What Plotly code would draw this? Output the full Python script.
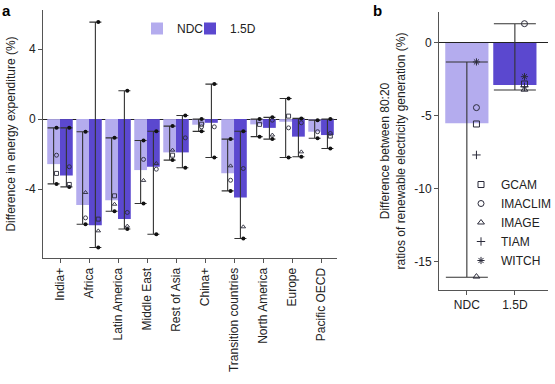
import numpy as np
import plotly.graph_objects as go

# ---------------- Panel a data ----------------
regions = ["India+", "Africa", "Latin America", "Middle East", "Rest of Asia",
           "China+", "Transition countries", "North America", "Europe", "Pacific OECD"]

ndc_mean = [-2.57, -4.91, -4.63, -2.91, -1.90, -0.32, -3.09, -0.30, -0.15, -0.72]
ndc_lo = [-3.70, -6.00, -5.26, -4.82, -2.34, -0.70, -4.10, -1.00, -2.19, -1.09]
ndc_hi = [-0.50, -0.72, -1.07, -1.22, -0.40, 0.00, -1.14, 0.00, 1.18, -0.06]
ndc_gcam = [-3.10, None, -4.38, None, -2.06, -0.29, None, -0.30, 0.17, None]
ndc_imaclim = [-2.06, -5.64, None, -2.30, None, -0.44, -3.49, None, -0.50, -0.72]
ndc_image = [None, -4.19, -4.86, -3.50, -1.77, None, -2.67, None, None, None]

d15_mean = [-3.22, -6.06, -5.71, -2.72, -1.90, -0.21, -4.48, -0.50, -1.00, -0.91]
d15_lo = [-3.87, -7.33, -6.27, -6.57, -2.78, -2.19, -6.82, -1.14, -2.15, -1.68]
d15_hi = [-0.50, 5.54, 1.62, -0.69, 0.21, 2.00, -0.69, 0.10, 0.04, 0.00]
d15_gcam = [-3.73, -5.71, None, None, None, None, None, None, None, -0.97]
d15_imaclim = [-2.72, None, -5.33, -2.86, -1.07, -0.44, -2.82, -0.06, -0.21, -0.82]
d15_image = [None, -6.38, -6.11, -2.53, None, None, -6.15, -0.91, -1.87, None]

a_tickvals = [-4, 0, 4]
a_ticktext = ["-4", "0", "4"]

# ---------------- Panel b data ----------------
scenarios = ["NDC", "1.5D"]
b_mean = [-5.50, -2.88]
b_lo = [-16.05, -3.22]
b_hi = [-1.30, 1.32]
b_gcam = [-5.55, -2.81]
b_imaclim = [-4.43, 1.32]
b_image = [-16.00, -3.20]
b_tiam = [-7.67, -3.00]
b_witch = [-1.30, -2.31]

b_tickvals = [-15, -10, -5, 0]
b_ticktext = ["-15", "-10", "-5", "0"]

models = ["GCAM", "IMACLIM", "IMAGE", "TIAM", "WITCH"]
symbols = ["square-open", "circle-open", "triangle-up-open", "cross-thin-open", "asterisk-open"]

NDC_COL = "#b4acee"
D15_COL = "#5b48cf"
ERR_COL = "#333333"
MK_COL = "#2a2a3a"
FONT = "Liberation Sans, Arial, sans-serif"

fig = go.Figure()

# ---------------- Panel a ----------------
x = np.arange(len(regions))
off, bw, moff = 0.22, 0.44, 0.10

series_a = [
    ("NDC", ndc_mean, ndc_lo, ndc_hi, [ndc_gcam, ndc_imaclim, ndc_image], NDC_COL, -1, "legend"),
    ("1.5D", d15_mean, d15_lo, d15_hi, [d15_gcam, d15_imaclim, d15_image], D15_COL, 1, "legend3"),
]
for name, mean, lo, hi, mvals, col, sgn, leg in series_a:
    xs = x + sgn * off
    m = np.array(mean, dtype=float)
    fig.add_trace(go.Bar(x=xs, y=mean, width=bw, marker=dict(color=col, line=dict(width=0)),
                         name=name, legend=leg, xaxis="x", yaxis="y"))
    fig.add_trace(go.Scatter(
        x=xs, y=mean, mode="markers", marker=dict(size=1, opacity=0),
        error_y=dict(type="data", symmetric=False, array=np.array(hi) - m,
                     arrayminus=m - np.array(lo), color=ERR_COL, thickness=1.1, width=6),
        showlegend=False, hoverinfo="skip", xaxis="x", yaxis="y"))
    # end dots
    fig.add_trace(go.Scatter(
        x=np.concatenate([xs, xs]) + moff, y=list(lo) + list(hi), mode="markers",
        marker=dict(symbol="circle", size=4, color="#111111"),
        showlegend=False, hoverinfo="skip", xaxis="x", yaxis="y"))
    for vals, sym in zip(mvals, symbols[:3]):
        fig.add_trace(go.Scatter(
            x=xs + moff, y=vals, mode="markers",
            marker=dict(symbol=sym, size=4, color=MK_COL, line=dict(width=0.9, color=MK_COL)),
            showlegend=False, hoverinfo="skip", xaxis="x", yaxis="y"))

# ---------------- Panel b ----------------
xb = np.arange(len(scenarios))
bm = np.array(b_mean, dtype=float)
fig.add_trace(go.Bar(x=xb, y=b_mean, width=0.9, marker=dict(color=[NDC_COL, D15_COL], line=dict(width=0)),
                     showlegend=False, xaxis="x2", yaxis="y2"))
fig.add_trace(go.Scatter(
    x=xb, y=b_mean, mode="markers", marker=dict(size=1, opacity=0),
    error_y=dict(type="data", symmetric=False, array=np.array(b_hi) - bm,
                 arrayminus=bm - np.array(b_lo), color=ERR_COL, thickness=1.1, width=21),
    showlegend=False, hoverinfo="skip", xaxis="x2", yaxis="y2"))
for name, vals, sym in zip(models, [b_gcam, b_imaclim, b_image, b_tiam, b_witch], symbols):
    fig.add_trace(go.Scatter(
        x=xb + 0.2, y=vals, mode="markers", name=name, legend="legend2",
        marker=dict(symbol=sym, size=6, color=MK_COL, line=dict(width=1, color=MK_COL)),
        hoverinfo="skip", xaxis="x2", yaxis="y2"))

W, H = 555, 384
axis_common = dict(showline=True, linecolor="#555555", linewidth=1, ticks="outside",
                   ticklen=4, tickcolor="#555555", showgrid=False, automargin=False,
                   tickfont=dict(size=12, color="#222222", family=FONT))
leg_common = dict(bgcolor="rgba(0,0,0,0)", font=dict(size=12), xanchor="left", yanchor="top")

fig.update_layout(
    width=W, height=H, margin=dict(l=0, r=0, t=0, b=0, autoexpand=False),
    paper_bgcolor="white", plot_bgcolor="white",
    font=dict(family=FONT, size=12, color="#222222"),
    barmode="overlay",
    xaxis=dict(domain=[43 / W, 337 / W], range=[-0.586, 9.55], tickvals=list(x), ticktext=regions,
               tickangle=-90, zeroline=False, anchor="y", **axis_common),
    yaxis=dict(domain=[1 - 258 / H, 1 - 10 / H], range=[-7.93, 6.23], tickvals=a_tickvals,
               ticktext=a_ticktext, zeroline=True, zerolinecolor="#222222", zerolinewidth=1,
               anchor="x", title=dict(text="Difference in energy expenditure (%)", standoff=6,
                                      font=dict(size=12)), **axis_common),
    xaxis2=dict(domain=[439 / W, 548 / W], range=[-0.58, 1.69], tickvals=list(xb), ticktext=scenarios,
                zeroline=False, anchor="y2", **axis_common),
    yaxis2=dict(domain=[1 - 290 / H, 1 - 12 / H], range=[-16.92, 2.12], tickvals=b_tickvals,
                ticktext=b_ticktext, zeroline=True, zerolinecolor="#222222", zerolinewidth=1,
                anchor="x2",
                title=dict(text="Difference between 80:20<br>ratios of renewable electricity generation (%)",
                           standoff=6, font=dict(size=12)), **axis_common),
    legend=dict(orientation="h", x=137 / W, y=1 - 14 / H, **leg_common),
    legend3=dict(orientation="h", x=190 / W, y=1 - 14 / H, **leg_common),
    legend2=dict(orientation="v", x=461 / W, y=1 - 170 / H, **leg_common),
    annotations=[
        dict(text="<b>a</b>", x=0, y=1, xref="paper", yref="paper", xanchor="left", yanchor="top",
             showarrow=False, font=dict(size=15, color="#000000")),
        dict(text="<b>b</b>", x=371 / W, y=1, xref="paper", yref="paper", xanchor="left", yanchor="top",
             showarrow=False, font=dict(size=15, color="#000000")),
    ],
)

fig.write_html("out.html", config={"displayModeBar": False},
               post_script="document.body.style.margin='0';")
